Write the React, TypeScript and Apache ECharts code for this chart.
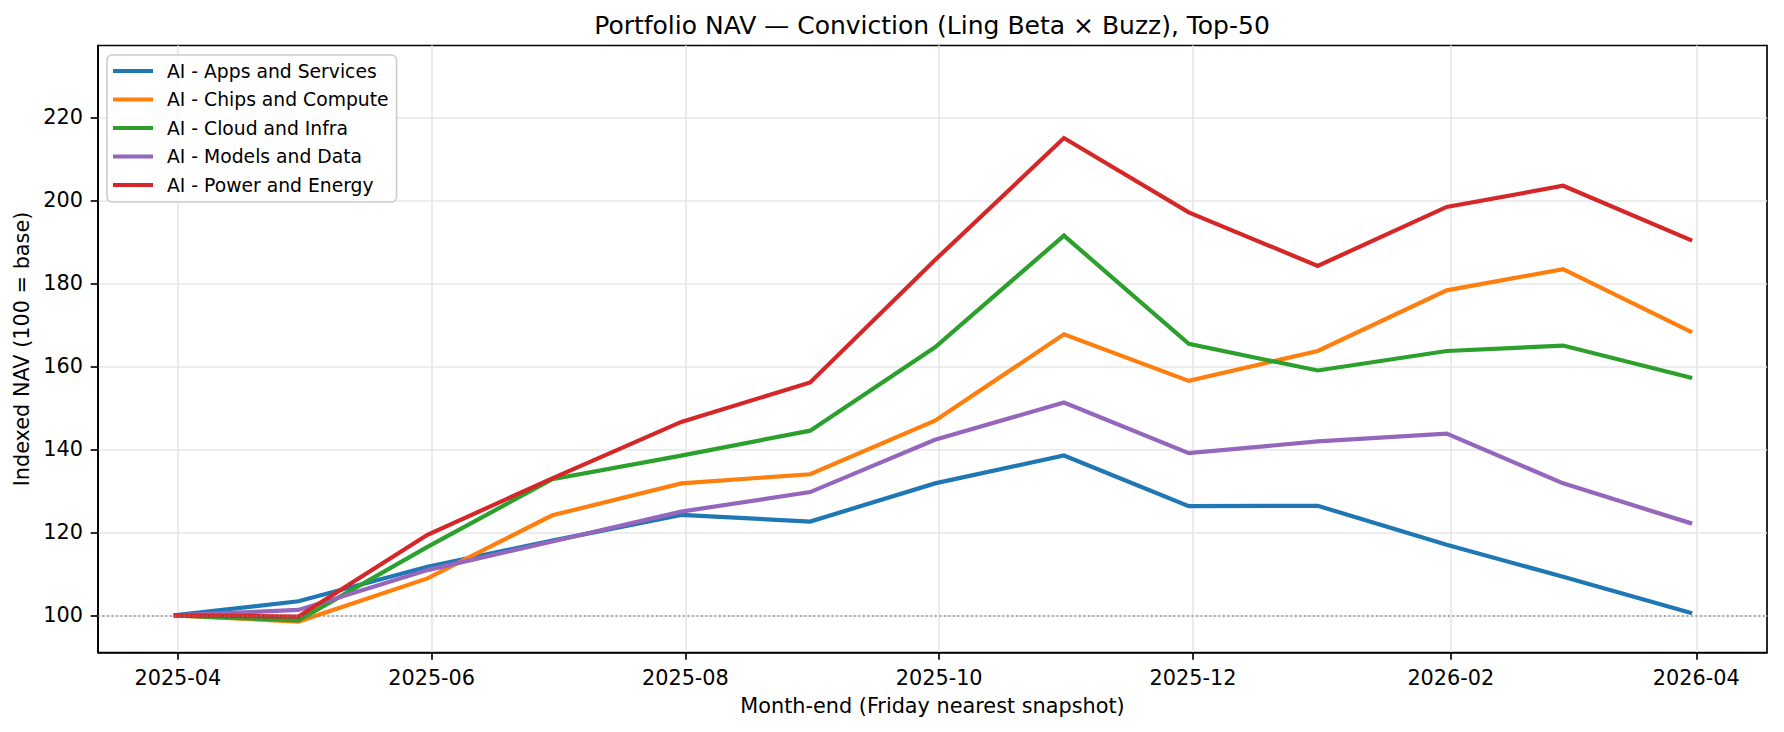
import React, { useEffect, useRef } from "react";
import * as echarts from "echarts";

const dates = [
  "2025-03-31", "2025-04-30", "2025-05-31", "2025-06-30", "2025-07-31", "2025-08-31",
  "2025-09-30", "2025-10-31", "2025-11-30", "2025-12-31", "2026-01-31", "2026-02-28", "2026-03-31",
];

const seriesNames = [
  "AI - Apps and Services",
  "AI - Chips and Compute",
  "AI - Cloud and Infra",
  "AI - Models and Data",
  "AI - Power and Energy",
];

const appsServices = [100, 103.4, 111.7, 118.0, 124.2, 122.6, 131.8, 138.5, 126.3, 126.4, 117.0, 109.3, 100.5];
const chipsCompute = [100, 98.5, 108.9, 124.1, 131.8, 134.0, 146.9, 167.7, 156.5, 163.7, 178.3, 183.4, 168.2];
const cloudInfra = [100, 98.8, 116.5, 132.8, 138.5, 144.5, 164.6, 191.5, 165.4, 159.0, 163.7, 165.0, 157.2];
const modelsData = [100, 101.3, 110.9, 117.8, 125.0, 129.7, 142.3, 151.3, 139.1, 141.9, 143.8, 131.8, 122.1];
const powerEnergy = [100, 99.7, 119.4, 133.0, 146.6, 156.1, 185.6, 215.0, 197.1, 184.2, 198.4, 203.5, 190.3];

const xTickLabels = ["2025-04", "2025-06", "2025-08", "2025-10", "2025-12", "2026-02", "2026-04"];
const yTicks = [100, 120, 140, 160, 180, 200, 220];

const colors = ["#1f77b4", "#ff7f0e", "#2ca02c", "#9467bd", "#d62728"];

const DAY = 86400000;
const toTs = (s: string) => {
  const [y, m, d] = s.split("-").map(Number);
  return Date.UTC(y, m - 1, d || 1);
};

const FONT = "DejaVu Sans";

export default function App() {
  const ref = useRef<HTMLDivElement>(null);

  useEffect(() => {
    document.body.style.margin = "0";
    if (!ref.current) return;
    const chart = echarts.init(ref.current, undefined, { renderer: "svg" });
    const allSeries = [appsServices, chipsCompute, cloudInfra, modelsData, powerEnergy];
    const xTickTs = xTickLabels.map((l) => toTs(l + "-01"));
    const labelOf: Record<number, string> = {};
    xTickTs.forEach((t, i) => (labelOf[t] = xTickLabels[i]));
    const xMin = toTs("2025-04-01") - 19.2 * DAY;
    const xMax = toTs("2026-04-01") + 17.0 * DAY;

    const series: any[] = allSeries.map((vals, i) => ({
      name: seriesNames[i],
      type: "line",
      data: vals.map((v, j) => [toTs(dates[j]), v]),
      showSymbol: false,
      symbol: "none",
      lineStyle: { color: colors[i], width: 4.2, cap: "butt", join: "miter" },
      itemStyle: { color: colors[i] },
      z: 2,
      silent: true,
      markLine:
        i === allSeries.length - 1
          ? {
              silent: true,
              symbol: "none",
              label: { show: false },
              lineStyle: { color: "#808080", width: 1.6, type: [1.7, 2.8], opacity: 0.9 },
              data: [{ yAxis: 100 }],
              z: 5,
            }
          : undefined,
    }));

    chart.setOption({
      animation: false,
      backgroundColor: "#ffffff",
      textStyle: { fontFamily: FONT },
      grid: {
        left: 98,
        right: 17,
        top: 45.5,
        bottom: 79.5,
        show: true,
        borderColor: "#000000",
        borderWidth: 1.67,
        backgroundColor: "transparent",
        containLabel: false,
        outerBoundsMode: "none",
      },
      legend: {
        orient: "vertical",
        left: 107,
        top: 55,
        padding: [6, 8, 7, 6],
        backgroundColor: "rgba(255,255,255,0.8)",
        borderColor: "#cccccc",
        borderWidth: 1.6,
        borderRadius: 5,
        icon: "rect",
        itemWidth: 40,
        itemHeight: 4,
        itemGap: 8.5,
        textStyle: {
          fontFamily: FONT,
          fontSize: 18.75,
          color: "#000000",
          lineHeight: 20,
          padding: [0, 0, 0, 9],
        },
        data: seriesNames,
      },
      graphic: [
        {
          type: "text",
          x: 932,
          y: 25,
          style: {
            text: "Portfolio NAV — Conviction (Ling Beta × Buzz), Top-50",
            font: `25px "${FONT}"`,
            fill: "#000000",
            align: "center",
            verticalAlign: "middle",
          },
        },
      ],
      xAxis: {
        type: "value",
        min: xMin,
        max: xMax,
        name: "Month-end (Friday nearest snapshot)",
        nameLocation: "middle",
        nameGap: 43,
        nameTextStyle: { fontFamily: FONT, fontSize: 20.8, color: "#000000" },
        axisLine: { show: true, lineStyle: { color: "#000000", width: 1.67 } },
        axisTick: {
          show: true,
          inside: false,
          length: 7.3,
          lineStyle: { color: "#000000", width: 1.67 },
          customValues: xTickTs,
        },
        axisLabel: {
          show: true,
          margin: 14.6,
          fontFamily: FONT,
          fontSize: 20.8,
          color: "#000000",
          customValues: xTickTs,
          formatter: (v: number) => {
            if (labelOf[v]) return labelOf[v];
            const d = new Date(v);
            const m = d.getUTCMonth() + 1;
            return `${d.getUTCFullYear()}-${m < 10 ? "0" + m : m}`;
          },
          hideOverlap: false,
        },
        splitLine: { show: true, lineStyle: { color: "#e7e7e7", width: 1.67 } },
      },
      yAxis: {
        type: "value",
        min: 91.05,
        max: 237.3,
        name: "Indexed NAV (100 = base)",
        nameLocation: "middle",
        nameGap: 64,
        nameRotate: 90,
        nameTextStyle: { fontFamily: FONT, fontSize: 20.8, color: "#000000" },
        axisLine: { show: true, lineStyle: { color: "#000000", width: 1.67 } },
        axisTick: {
          show: true,
          inside: false,
          length: 7.3,
          lineStyle: { color: "#000000", width: 1.67 },
          customValues: yTicks,
        },
        axisLabel: {
          show: true,
          margin: 15,
          fontFamily: FONT,
          fontSize: 20.8,
          color: "#000000",
          customValues: yTicks,
        },
        splitLine: { show: true, lineStyle: { color: "#e7e7e7", width: 1.67 } },
      },
      series,
    });

    return () => {
      chart.dispose();
    };
  }, []);

  return (
    <div
      ref={ref}
      style={{ position: "fixed", left: 0, top: 0, width: 1784, height: 732, background: "#fff" }}
    />
  );
}
